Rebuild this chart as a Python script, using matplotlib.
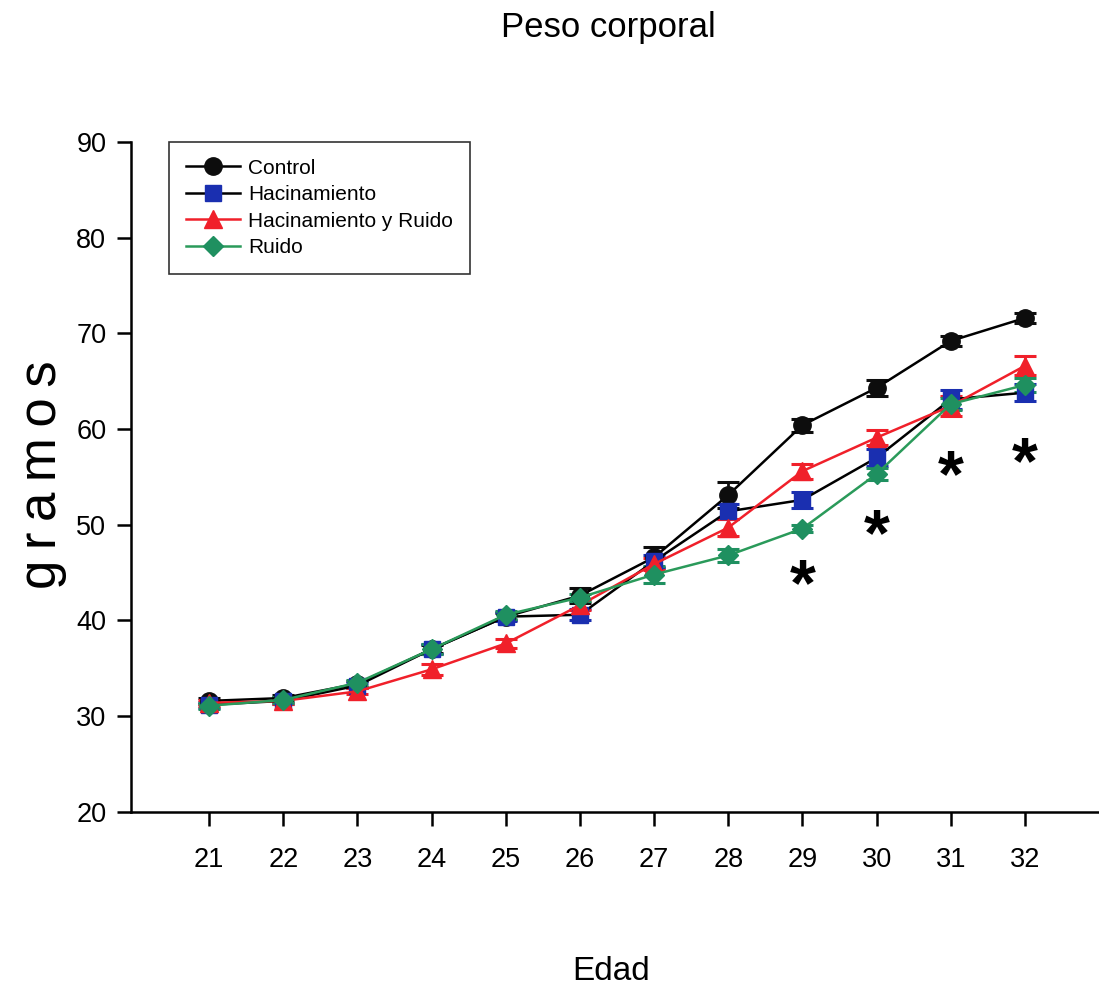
import matplotlib
matplotlib.use("Agg")
import matplotlib.pyplot as plt
import matplotlib.transforms as mtransforms

plt.rcParams['font.family'] = ['Liberation Sans', 'DejaVu Sans']

edad = [21, 22, 23, 24, 25, 26, 27, 28, 29, 30, 31, 32]

control = [31.6, 31.9, 33.4, 37.0, 40.4, 42.6, 46.6, 53.1, 60.4, 64.3, 69.2, 71.6]
control_se = [0.3, 0.3, 0.3, 0.4, 0.4, 0.8, 1.1, 1.4, 0.7, 0.8, 0.5, 0.5]

hacinamiento = [31.2, 31.6, 33.2, 37.0, 40.4, 40.6, 46.2, 51.4, 52.6, 57.0, 63.1, 63.8]
hacinamiento_se = [0.3, 0.3, 0.3, 0.5, 0.5, 0.6, 0.6, 0.8, 0.8, 0.9, 1.0, 0.9]

hac_ruido = [31.4, 31.6, 32.6, 34.9, 37.6, 41.6, 45.9, 49.7, 55.6, 59.1, 62.4, 66.6]
hac_ruido_se = [0.3, 0.3, 0.3, 0.6, 0.5, 0.5, 0.6, 0.9, 0.8, 0.8, 1.0, 1.0]

ruido = [31.1, 31.7, 33.5, 37.0, 40.6, 42.4, 44.8, 46.8, 49.6, 55.3, 62.6, 64.6]
ruido_se = [0.3, 0.3, 0.3, 0.5, 0.4, 0.4, 0.9, 0.7, 0.4, 0.6, 0.6, 0.7]

labels = ["Control", "Hacinamiento", "Hacinamiento y Ruido", "Ruido"]

# significance marks: (age, height of the asterisk)
sig_edad = [29, 30, 31, 32]
sig_y = [44.8, 50.0, 56.1, 57.5]

fig = plt.figure(figsize=(10.99, 9.92), dpi=100)
ax = fig.add_axes([0.1195, 0.1815, 0.8805, 0.6755])

styles = [
    ("black", "#0d0d0d", "o", 12.5),
    ("black", "#1a2fb0", "s", 11),
    ("#f0202a", "#f0202a", "^", 12.5),
    ("#2a9a5a", "#1f9060", "D", 10),
]
data = [(control, control_se), (hacinamiento, hacinamiento_se),
        (hac_ruido, hac_ruido_se), (ruido, ruido_se)]

handles = []
for (vals, se), (lc, mc, mk, ms) in zip(data, styles):
    cont = ax.errorbar(edad, vals, yerr=se, color=lc, lw=1.8, marker=mk, ms=ms,
                       mfc=mc, mec=mc, ecolor=mc, elinewidth=2.0, capsize=8,
                       capthick=2.2)
    handles.append(cont[0])

# asterisk glyph sits high in its box, so nudge it down to centre it on y
shift = mtransforms.ScaledTranslation(0, -9.5 / 72, fig.dpi_scale_trans)
for x, y in zip(sig_edad, sig_y):
    ax.text(x, y, "*", ha="center", va="center", fontsize=48, color="black",
            fontweight="bold", transform=ax.transData + shift)

ax.set_xlim(19.95, 33.0)
ax.set_ylim(20, 90)
ax.set_xticks(edad)
ax.set_yticks(range(20, 91, 10))
ax.spines['top'].set_visible(False)
ax.spines['right'].set_visible(False)
ax.spines['left'].set_linewidth(1.8)
ax.spines['bottom'].set_linewidth(1.8)
ax.tick_params(direction='out', length=10, width=1.8, labelsize=19.5)
ax.tick_params(axis='x', pad=15)
ax.tick_params(axis='y', pad=8)

fig.text(42 / 1099, 1 - 475 / 992, "g\u2009r\u2009a\u2009m\u2009o\u2009s",
         rotation=90, ha="center", va="center", fontsize=38)
fig.text(611 / 1099, 1 - 972 / 992, "Edad", ha="center", va="center",
         fontsize=24)
fig.text(608 / 1099, 1 - 27 / 992, "Peso corporal", ha="center",
         va="center", fontsize=25)

leg = ax.legend(handles=handles, labels=labels, loc="upper left",
                bbox_to_anchor=(0.039, 1.0), borderaxespad=0, fontsize=15,
                frameon=True, fancybox=False, edgecolor="black",
                handlelength=2.6, borderpad=0.8, labelspacing=0.36,
                handletextpad=0.4)
leg.get_frame().set_linewidth(1.2)

fig.savefig("out.png", dpi=100, facecolor="white")
